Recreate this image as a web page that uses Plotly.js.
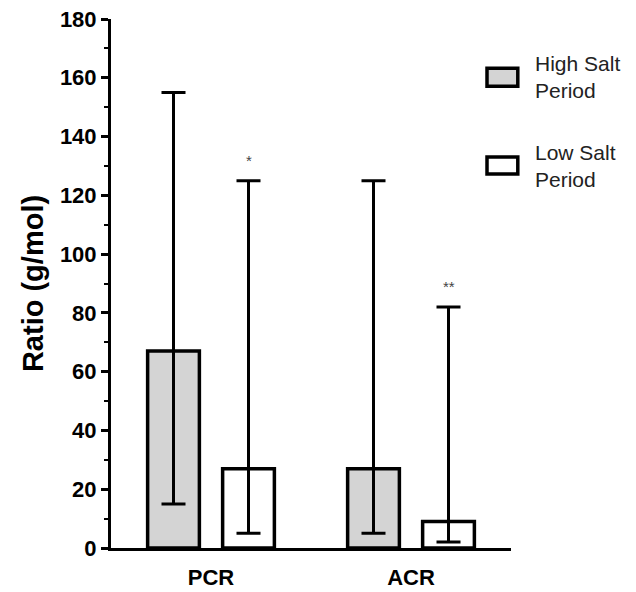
<!DOCTYPE html>
<html>
<head>
<meta charset="utf-8">
<script src="https://cdn.plot.ly/plotly-3.0.1.min.js"></script>
<style>html,body{margin:0;padding:0;background:#fff;}#chart{width:636px;height:592px;}</style>
</head>
<body>
<div id="chart"></div>
<script>
// ---- data ----
const categories = ["PCR", "ACR"];
const seriesNames = ["High Salt<br>Period", "Low Salt<br>Period"];
const highSalt = [67, 27];
const highSaltLower = [15, 5];
const highSaltUpper = [155, 125];
const lowSalt = [27, 9];
const lowSaltLower = [5, 2];
const lowSaltUpper = [125, 82];
const lowSaltSignif = ["*", "**"];
const yTicks = [0, 20, 40, 60, 80, 100, 120, 140, 160, 180];

const FONT = '"Liberation Sans", Arial, sans-serif';
const fills = ["#d4d4d4", "#ffffff"];
const BARGAP = 0.25, BARGROUPGAP = 0.31;

function makeTrace(name, vals, lo, hi, fill) {
  return {
    type: "bar", name: name, x: categories, y: vals,
    marker: {color: fill, line: {color: "#000", width: 3.5}},
    error_y: {type: "data", symmetric: false,
      array: vals.map((v, i) => hi[i] - v),
      arrayminus: vals.map((v, i) => v - lo[i]),
      color: "#000", thickness: 3, width: 12},
    showlegend: false, hoverinfo: "skip"
  };
}

const traces = [
  makeTrace(seriesNames[0], highSalt, highSaltLower, highSaltUpper, fills[0]),
  makeTrace(seriesNames[1], lowSalt, lowSaltLower, lowSaltUpper, fills[1])
];

// significance markers above the low-salt error bars
const slotOffset = (1 - BARGAP) / 4;
const annotations = lowSaltSignif.map((s, i) => ({
  x: i + slotOffset, y: lowSaltUpper[i], xref: "x", yref: "y",
  text: s, showarrow: false, yanchor: "bottom", yshift: 10,
  font: {family: FONT, size: 15, color: "#444"}
}));

// manual legend
const legendItems = [
  {y0: 0.873, y1: 0.907},
  {y0: 0.707, y1: 0.739}
];
const shapes = [];
legendItems.forEach((it, i) => {
  shapes.push({type: "rect", xref: "paper", yref: "paper",
    x0: 0.94, x1: 1.017, y0: it.y0, y1: it.y1,
    fillcolor: fills[i], line: {color: "#000", width: 3.5}});
  annotations.push({xref: "paper", yref: "paper", x: 1.055, y: (it.y0 + it.y1) / 2,
    xanchor: "left", yanchor: "middle", align: "left", showarrow: false,
    text: seriesNames[i], font: {family: FONT, size: 21, color: "#222"}});
});

const layout = {
  width: 636, height: 592,
  margin: {l: 111, r: 125, t: 19, b: 44},
  paper_bgcolor: "#fff", plot_bgcolor: "#fff",
  barmode: "group", bargap: BARGAP, bargroupgap: BARGROUPGAP,
  showlegend: false,
  xaxis: {
    type: "category", range: [-0.5, 1.5], showgrid: false, zeroline: false,
    showline: true, linecolor: "#000", linewidth: 3, ticks: "",
    ticklabelstandoff: 8,
    tickfont: {family: FONT, size: 22, color: "#000", weight: "bold"},
    fixedrange: true
  },
  yaxis: {
    range: [0, 180], tickvals: yTicks, ticktext: yTicks.map(String),
    showgrid: false, zeroline: false,
    showline: true, linecolor: "#000", linewidth: 3,
    ticks: "outside", ticklen: 7, tickwidth: 3, tickcolor: "#000",
    minor: {dtick: 10, ticks: "outside", ticklen: 4, tickwidth: 2, tickcolor: "#000"},
    tickfont: {family: FONT, size: 22, color: "#000", weight: "bold"},
    title: {text: "Ratio (g/mol)", font: {family: FONT, size: 29, color: "#000", weight: "bold"}, standoff: 8},
    fixedrange: true
  },
  annotations: annotations,
  shapes: shapes
};

Plotly.newPlot("chart", traces, layout, {displayModeBar: false, staticPlot: true});
</script>
</body>
</html>
